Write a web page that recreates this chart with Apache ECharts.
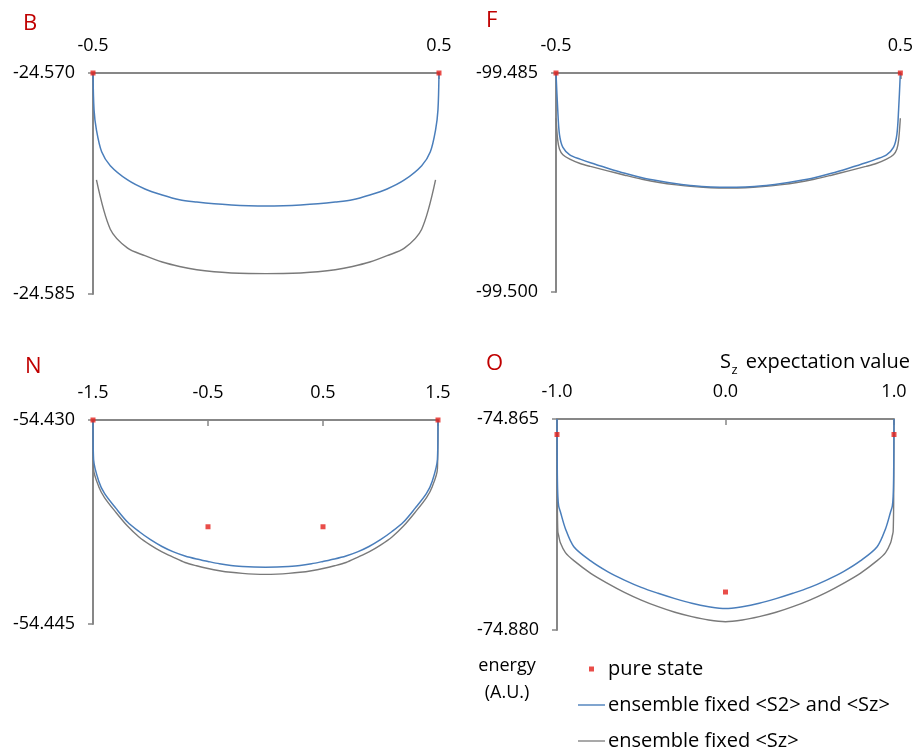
<!DOCTYPE html>
<html>
<head>
<meta charset="utf-8">
<script src="https://cdn.jsdelivr.net/npm/echarts@6/dist/echarts.min.js"></script>
<style>html,body{margin:0;padding:0;background:#fff;}#c{width:916px;height:750px;}</style>
</head>
<body>
<div id="c"></div>
<script>
// ---------- DATA ----------
const seriesNames = ['pure state', 'ensemble fixed <S2> and <Sz>', 'ensemble fixed <Sz>'];
const panelLabels = ['B', 'F', 'N', 'O'];

// Panel B
const B_xTicks = [-0.5, 0.5];
const B_yTicks = [-24.585, -24.570];
const B_x = [-0.5, -0.497, -0.49, -0.475, -0.45, -0.4, -0.35, -0.3, -0.25, -0.2, -0.15, -0.1, -0.05, 0, 0.05, 0.1, 0.15, 0.2, 0.25, 0.3, 0.35, 0.4, 0.45, 0.475, 0.49, 0.497, 0.5];
const B_blue = [-24.57000, -24.57250, -24.57388, -24.57535, -24.57629, -24.57726, -24.57787, -24.57828, -24.57860, -24.57876, -24.57888, -24.57896, -24.57901, -24.57903, -24.57901, -24.57896, -24.57888, -24.57876, -24.57860, -24.57828, -24.57787, -24.57726, -24.57629, -24.57535, -24.57388, -24.57250, -24.57000];
const B_grayX = [-0.49, -0.45, -0.4, -0.35, -0.3, -0.25, -0.2, -0.15, -0.1, -0.05, 0, 0.05, 0.1, 0.15, 0.2, 0.25, 0.3, 0.35, 0.4, 0.45, 0.49];
const B_gray = [-24.57726, -24.58060, -24.58189, -24.58240, -24.58283, -24.58313, -24.58335, -24.58349, -24.58357, -24.58361, -24.58362, -24.58361, -24.58357, -24.58349, -24.58335, -24.58313, -24.58283, -24.58240, -24.58189, -24.58060, -24.57726];
const B_pureX = [-0.5, 0.5];
const B_pure = [-24.570, -24.570];

// Panel F
const F_xTicks = [-0.5, 0.5];
const F_yTicks = [-99.500, -99.485];
const F_x = [-0.5, -0.495, -0.49, -0.48, -0.46, -0.43, -0.4, -0.35, -0.3, -0.25, -0.2, -0.15, -0.1, -0.05, 0, 0.05, 0.1, 0.15, 0.2, 0.25, 0.3, 0.35, 0.4, 0.43, 0.46, 0.48, 0.49, 0.495, 0.5];
const F_blue = [-99.48500, -99.48750, -99.48920, -99.49010, -99.49060, -99.49090, -99.49115, -99.49152, -99.49187, -99.49218, -99.49240, -99.49258, -99.49272, -99.49280, -99.49283, -99.49280, -99.49272, -99.49258, -99.49240, -99.49218, -99.49187, -99.49152, -99.49115, -99.49090, -99.49060, -99.49010, -99.48920, -99.48750, -99.48500];
const F_gray = [-99.48810, -99.48960, -99.49020, -99.49060, -99.49090, -99.49120, -99.49140, -99.49170, -99.49200, -99.49228, -99.49250, -99.49266, -99.49278, -99.49286, -99.49288, -99.49286, -99.49278, -99.49266, -99.49250, -99.49228, -99.49200, -99.49170, -99.49140, -99.49120, -99.49090, -99.49060, -99.49020, -99.48960, -99.48810];
const F_pureX = [-0.5, 0.5];
const F_pure = [-99.485, -99.485];

// Panel N
const N_xTicks = [-1.5, -0.5, 0.5, 1.5];
const N_yTicks = [-54.445, -54.430];
const N_x = [-1.5, -1.495, -1.45, -1.4, -1.3, -1.2, -1.1, -1.0, -0.9, -0.8, -0.7, -0.6, -0.5, -0.4, -0.3, -0.2, -0.1, 0, 0.1, 0.2, 0.3, 0.4, 0.5, 0.6, 0.7, 0.8, 0.9, 1.0, 1.1, 1.2, 1.3, 1.4, 1.45, 1.495, 1.5];
const N_blue = [-54.43000, -54.43290, -54.43450, -54.43540, -54.43650, -54.43750, -54.43820, -54.43880, -54.43930, -54.43970, -54.44000, -54.44022, -54.44040, -54.44057, -54.44070, -54.44077, -54.44081, -54.44082, -54.44081, -54.44077, -54.44070, -54.44057, -54.44040, -54.44022, -54.44000, -54.43970, -54.43930, -54.43880, -54.43820, -54.43750, -54.43650, -54.43540, -54.43450, -54.43290, -54.43000];
const N_gray = [-54.43000, -54.43360, -54.43490, -54.43570, -54.43680, -54.43780, -54.43860, -54.43920, -54.43970, -54.44010, -54.44048, -54.44072, -54.44092, -54.44108, -54.44120, -54.44128, -54.44133, -54.44135, -54.44133, -54.44128, -54.44120, -54.44108, -54.44092, -54.44072, -54.44048, -54.44010, -54.43970, -54.43920, -54.43860, -54.43780, -54.43680, -54.43570, -54.43490, -54.43360, -54.43000];
const N_pureX = [-1.5, -0.5, 0.5, 1.5];
const N_pure = [-54.430, -54.43785, -54.43785, -54.430];

// Panel O
const O_xTicks = [-1.0, 0.0, 1.0];
const O_yTicks = [-74.880, -74.865];
const O_x = [-1.0, -0.998, -0.995, -0.99, -0.98, -0.95, -0.9, -0.8, -0.7, -0.6, -0.5, -0.4, -0.3, -0.2, -0.1, 0, 0.1, 0.2, 0.3, 0.4, 0.5, 0.6, 0.7, 0.8, 0.9, 0.95, 0.98, 0.99, 0.995, 0.998, 1.0];
const O_blue = [-74.86500, -74.86900, -74.87050, -74.87120, -74.87160, -74.87280, -74.87408, -74.87509, -74.87585, -74.87645, -74.87697, -74.87739, -74.87777, -74.87810, -74.87834, -74.87848, -74.87834, -74.87810, -74.87777, -74.87739, -74.87697, -74.87645, -74.87585, -74.87509, -74.87408, -74.87280, -74.87160, -74.87120, -74.87050, -74.86900, -74.86500];
const O_gray = [-74.86500, -74.87100, -74.87300, -74.87330, -74.87380, -74.87450, -74.87507, -74.87597, -74.87668, -74.87732, -74.87787, -74.87834, -74.87874, -74.87905, -74.87929, -74.87941, -74.87929, -74.87905, -74.87874, -74.87834, -74.87787, -74.87732, -74.87668, -74.87597, -74.87507, -74.87450, -74.87380, -74.87330, -74.87300, -74.87100, -74.86500];
const O_pureX = [-1.0, 0.0, 1.0];
const O_pure = [-74.8661, -74.8773, -74.8661];

// ---------- BUILD ----------
const FONT = '"Open Sans", "Noto Sans", sans-serif';
const AX = '#878787';
const BLUE = '#4a7ebb';
const GRAY = '#7a7a7a';
const RED = '#e3201b';
const zip = (xs, ys) => xs.map((x, i) => [x, ys[i]]);

const panels = [
  { grid: {left: 93, top: 73, width: 346, height: 221}, xT: B_xTicks, yT: B_yTicks,
    blue: zip(B_x, B_blue), gray: zip(B_grayX, B_gray), pure: zip(B_pureX, B_pure) },
  { grid: {left: 556, top: 73, width: 345, height: 219}, xT: F_xTicks, yT: F_yTicks,
    blue: zip(F_x, F_blue), gray: zip(F_x, F_gray), pure: zip(F_pureX, F_pure) },
  { grid: {left: 93, top: 420, width: 345, height: 204}, xT: N_xTicks, yT: N_yTicks,
    blue: zip(N_x, N_blue), gray: zip(N_x, N_gray), pure: zip(N_pureX, N_pure) },
  { grid: {left: 557, top: 419, width: 337, height: 211}, xT: O_xTicks, yT: O_yTicks,
    blue: zip(O_x, O_blue), gray: zip(O_x, O_gray), pure: zip(O_pureX, O_pure) }
];

const grids = [], xAxes = [], yAxes = [], series = [];
panels.forEach((p, i) => {
  grids.push(p.grid);
  const xT = p.xT, yT = p.yT;
  xAxes.push({
    type: 'value', gridIndex: i, position: 'top', min: xT[0], max: xT[xT.length - 1],
    axisLine: { onZero: false, lineStyle: { color: AX, width: 2 } },
    axisTick: { show: true, inside: true, length: 6, customValues: xT, lineStyle: { color: AX, width: 1.5 } },
    axisLabel: { customValues: xT, margin: 18, color: '#000', fontFamily: FONT, fontSize: 18,
      formatter: v => v.toFixed(1) },
    splitLine: { show: false }
  });
  yAxes.push({
    type: 'value', gridIndex: i, min: yT[0], max: yT[yT.length - 1],
    axisLine: { show: true, onZero: false, lineStyle: { color: AX, width: 2 } },
    axisTick: { show: true, inside: false, length: 5, customValues: yT, lineStyle: { color: AX, width: 1.5 } },
    axisLabel: { customValues: yT, margin: 18, color: '#000', fontFamily: FONT, fontSize: 18,
      formatter: v => v.toFixed(3) },
    splitLine: { show: false }
  });
  series.push({
    name: seriesNames[2], type: 'line', xAxisIndex: i, yAxisIndex: i, data: p.gray,
    symbol: 'none', showSymbol: false, smooth: 0.3, clip: false, z: 2,
    lineStyle: { color: GRAY, width: 1.4 }, itemStyle: { color: GRAY }
  });
  series.push({
    name: seriesNames[1], type: 'line', xAxisIndex: i, yAxisIndex: i, data: p.blue,
    symbol: 'none', showSymbol: false, smooth: 0.3, clip: false, z: 3,
    lineStyle: { color: BLUE, width: 1.5 }, itemStyle: { color: BLUE }
  });
  series.push({
    name: seriesNames[0], type: 'scatter', xAxisIndex: i, yAxisIndex: i, data: p.pure,
    symbol: 'rect', symbolSize: 5, clip: false, z: 4, itemStyle: { color: RED }
  });
});

const letterPos = [[23, 24], [486, 21], [25, 367], [486, 364]];
const graphics = panelLabels.map((t, i) => ({
  type: 'text', x: letterPos[i][0], y: letterPos[i][1],
  style: { text: t, fill: '#c00000', font: '22px ' + FONT, textAlign: 'left', textVerticalAlign: 'middle' }
}));
graphics.push(
  { type: 'text', x: 507, y: 666, style: { text: 'energy', fill: '#000', font: '18px ' + FONT, textAlign: 'center', textVerticalAlign: 'middle' } },
  { type: 'text', x: 507, y: 693, style: { text: '(A.U.)', fill: '#000', font: '18px ' + FONT, textAlign: 'center', textVerticalAlign: 'middle' } },
  { type: 'text', x: 720, y: 362, style: { text: 'S', fill: '#000', font: '20px ' + FONT, textAlign: 'left', textVerticalAlign: 'middle' } },
  { type: 'text', x: 731.5, y: 370, style: { text: 'z', fill: '#000', font: '13px ' + FONT, textAlign: 'left', textVerticalAlign: 'middle' } },
  { type: 'text', x: 910, y: 362, style: { text: 'expectation value', fill: '#000', font: '20px ' + FONT, textAlign: 'right', textVerticalAlign: 'middle' } }
);

const chart = echarts.init(document.getElementById('c'), null, { renderer: 'canvas' });
chart.setOption({
  animation: false,
  backgroundColor: '#fff',
  grid: grids,
  xAxis: xAxes,
  yAxis: yAxes,
  legend: {
    orient: 'vertical', left: 578, top: 659, height: 120, padding: 0, itemGap: 16,
    itemWidth: 27, itemHeight: 5, selectedMode: false, symbolKeepAspect: true,
    textStyle: { color: '#000', fontFamily: FONT, fontSize: 20, lineHeight: 20, padding: [0, 0, 0, -2] },
    data: [
      { name: seriesNames[0], icon: 'path://M0,0h10v10h-10z', itemStyle: { color: RED } },
      { name: seriesNames[1], icon: 'path://M0,0h27v1.4h-27z', itemStyle: { color: BLUE } },
      { name: seriesNames[2], icon: 'path://M0,0h27v1.3h-27z', itemStyle: { color: GRAY } }
    ]
  },
  graphic: graphics,
  series: series
});
</script>
</body>
</html>
